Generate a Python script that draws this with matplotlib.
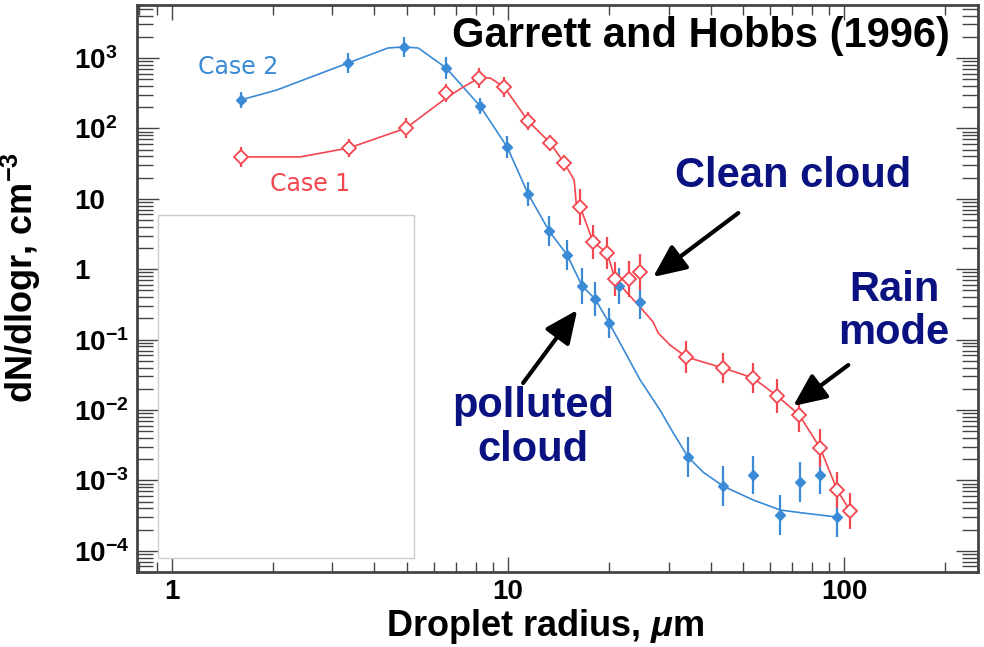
import numpy as np
import matplotlib
matplotlib.use("Agg")
import matplotlib.pyplot as plt
from matplotlib.patches import Rectangle

plt.rcParams['font.family'] = ['Liberation Sans', 'DejaVu Sans']
plt.rcParams['mathtext.fontset'] = 'custom'
plt.rcParams['mathtext.rm'] = 'Liberation Sans:bold'
plt.rcParams['mathtext.bf'] = 'Liberation Sans:bold'
plt.rcParams['mathtext.it'] = 'Liberation Sans:italic:bold'

########################## data ##########################
# Case 2 (polluted cloud) measurements
r2 = [1.6, 3.34, 4.9, 6.54, 8.25, 9.93, 11.47, 13.24, 14.98, 16.6, 18.15, 19.98,
      21.4, 24.7, 34.3, 43.6, 53.6, 64.5, 74.0, 84.8, 95.3]
n2 = [253, 849, 1433, 721, 208, 54.4, 11.7, 3.49, 1.59, 0.577, 0.377, 0.172,
      0.577, 0.342, 2.15e-3, 8.3e-4, 1.19e-3, 3.23e-4, 9.5e-4, 1.19e-3, 3.02e-4]
err2 = [0.11, 0.14, 0.14, 0.16, 0.11, 0.16, 0.17, 0.21, 0.21, 0.26, 0.24, 0.21,
        0.26, 0.24, 0.28, 0.28, 0.27, 0.28, 0.28, 0.27, 0.28]   # half bar, dex

# Case 2 smooth curve
r2_fit = [1.6, 2.05, 3.34, 4.39, 4.9, 5.4, 6.54, 8.25, 9.93, 11.47, 13.24, 14.98,
          16.6, 18.15, 19.98, 24.7, 28.3, 31.0, 34.3, 38.0, 43.6, 53.6, 64.5, 75.5, 95.3]
n2_fit = [253, 351, 849, 1387, 1433, 1387, 721, 208, 54.4, 11.7, 3.49, 1.59,
          0.577, 0.377, 0.172, 0.0267, 0.01, 4.71e-3, 2.15e-3, 1.315e-3, 8.3e-4,
          5.27e-4, 3.8e-4, 3.44e-4, 3.02e-4]

# Case 1 (clean cloud) measurements
r1 = [1.6, 3.36, 4.97, 6.54, 8.2, 9.73, 11.47, 13.34, 14.68, 16.38, 17.9, 19.71,
      20.8, 22.9, 24.7, 33.9, 43.6, 53.6, 63.2, 73.5, 84.8, 95.3, 104.2]
n1 = [39.3, 52.7, 101, 318, 520, 387, 127, 62.1, 32.3, 7.65, 2.43, 1.70,
      0.726, 0.726, 0.912, 0.0566, 0.0395, 0.0285, 0.0158, 8.5e-3, 2.88e-3,
      7.3e-4, 3.67e-4]
err1 = [0.14, 0.13, 0.14, 0.13, 0.14, 0.14, 0.13, 0.11, 0.11, 0.26, 0.24, 0.23,
        0.24, 0.26, 0.26, 0.23, 0.21, 0.21, 0.24, 0.24, 0.27, 0.26, 0.26]

# Case 1 smooth curve
r1_fit = [1.6, 2.4, 3.36, 4.97, 6.54, 7.35, 8.2, 8.84, 9.73, 11.47, 13.34, 14.68,
          15.72, 15.94, 16.38, 17.9, 19.71, 20.8, 22.6, 24.7, 27.0, 27.96, 30.3,
          33.9, 43.6, 53.6, 63.2, 73.5, 84.8, 95.3, 104.2]
n1_fit = [39.3, 39.3, 52.7, 101, 270, 387, 520, 520, 387, 127, 62.1, 32.3,
          18.5, 8.7, 7.65, 2.43, 1.70, 0.726, 0.459, 0.290, 0.178, 0.124, 0.0838,
          0.0566, 0.0395, 0.0285, 0.0158, 8.5e-3, 2.88e-3, 7.3e-4, 3.67e-4]

yticks = [1e-4, 1e-3, 1e-2, 1e-1, 1, 10, 1e2, 1e3]
ylabels = [r'$\mathbf{10^{-4}}$', r'$\mathbf{10^{-3}}$', r'$\mathbf{10^{-2}}$',
           r'$\mathbf{10^{-1}}$', '1', '10', r'$\mathbf{10^{2}}$', r'$\mathbf{10^{3}}$']
xticks = [1, 10, 100]
xlabels = ['1', '10', '100']

blue = '#3a8ad6'
red = '#f4464e'
navy = '#0a1282'
frame = '#444444'

def bars(y, e):
    y = np.array(y)
    e = np.array(e)
    return [y - y * 10**(-e), y * 10**e - y]

############################# Plot ####################################
fig = plt.figure(figsize=(9.84, 6.47), dpi=100)
ax = fig.add_axes([0.1397, 0.1159, 0.8542, 0.8764])
ax.set_xscale('log')
ax.set_yscale('log')
ax.set_xlim(0.789, 250)
ax.set_ylim(5.0e-5, 5660)

ax.plot(r2_fit, n2_fit, '-', color=blue, lw=1.2, zorder=3)
ax.errorbar(r2, n2, yerr=bars(n2, err2), fmt='D', ms=5, color=blue,
            ecolor=blue, elinewidth=1.6, capsize=0, zorder=4)

ax.plot(r1_fit, n1_fit, '-', color=red, lw=1.2, zorder=3)
ax.errorbar(r1, n1, yerr=bars(n1, err1), fmt='D', ms=7, mfc='white', mec=red,
            mew=1.3, color=red, ecolor=red, elinewidth=1.6, capsize=0, zorder=4)

# ticks / frame
ax.set_xticks(xticks)
ax.set_xticklabels(xlabels)
ax.set_yticks(yticks)
ax.set_yticklabels(ylabels)
ax.tick_params(axis='both', which='both', direction='in', top=True, right=True,
               color=frame, width=1.0)
ax.tick_params(axis='x', which='major', length=11, pad=5, labelsize=20)
ax.tick_params(axis='x', which='minor', length=7.5)
ax.tick_params(axis='y', which='major', length=16, pad=45.7, labelsize=20)
ax.tick_params(axis='y', which='minor', length=11.5)
for lab in ax.get_yticklabels():
    lab.set_ha('left')
for lab in ax.get_xticklabels() + ax.get_yticklabels():
    lab.set_fontweight('bold')
for s in ax.spines.values():
    s.set_color(frame)
    s.set_linewidth(2)

ax.set_xlabel(r'Droplet radius, $\mathit{\mu}$m', fontsize=26, fontweight='bold')
ax.xaxis.set_label_coords(0.485, -0.062)
ax.set_ylabel(r'dN/dlogr, cm$^{-3}$', fontsize=26, fontweight='bold')
ax.yaxis.set_label_coords(-0.112, 0.52)

# blank box present in the original image
ax.add_patch(Rectangle((0.0244, 0.0247), 0.3046, 0.6049, transform=ax.transAxes,
                       facecolor='white', edgecolor='#cccccc', lw=1, zorder=5))

# text
ax.text(0.670, 0.945, 'Garrett and Hobbs (1996)', transform=ax.transAxes,
        ha='center', va='center', fontsize=30, fontweight='bold', color='black')
ax.text(0.1196, 0.8907, 'Case 2', transform=ax.transAxes, ha='center', va='center',
        fontsize=17, color=blue, family='DejaVu Sans')
ax.text(0.2052, 0.6843, 'Case 1', transform=ax.transAxes, ha='center', va='center',
        fontsize=17, color=red, family='DejaVu Sans')
ax.text(0.780, 0.698, 'Clean cloud', transform=ax.transAxes, ha='center', va='center',
        fontsize=30, fontweight='bold', color=navy)
ax.text(0.900, 0.460, 'Rain\nmode', transform=ax.transAxes, ha='center', va='center',
        fontsize=30, fontweight='bold', color=navy, linespacing=1.1)
ax.text(0.4706, 0.254, 'polluted\ncloud', transform=ax.transAxes, ha='center',
        va='center', fontsize=30, fontweight='bold', color=navy, linespacing=1.1)

# arrows
arw = dict(arrowstyle='-|>,head_length=1.0,head_width=0.45', lw=3, color='black',
           mutation_scale=20, shrinkA=0, shrinkB=0)
ax.annotate('', xy=(27.0, 0.775), xytext=(48.4, 6.28), arrowprops=arw, zorder=6)
ax.annotate('', xy=(16.05, 0.263), xytext=(11.08, 0.0242), arrowprops=arw, zorder=6)
ax.annotate('', xy=(70.5, 0.0114), xytext=(102.8, 0.0435), arrowprops=arw, zorder=6)

fig.savefig('out.png', dpi=100)
